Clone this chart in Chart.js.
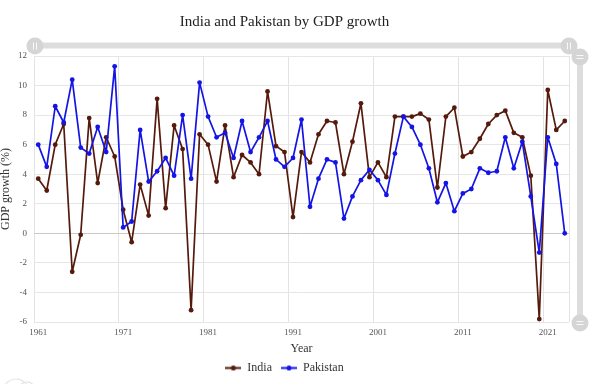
<!DOCTYPE html>
<html>
<head>
<meta charset="utf-8">
<script src="https://cdn.jsdelivr.net/npm/chart.js@4.4.1/dist/chart.umd.min.js"></script>
<style>
  html, body { margin: 0; padding: 0; background: #ffffff; }
  #wrap { width: 602px; height: 384px; }
</style>
</head>
<body>
<div id="wrap"><canvas id="c" width="602" height="384"></canvas></div>
<script>
const years = ['1961','1962','1963','1964','1965','1966','1967','1968','1969','1970',
  '1971','1972','1973','1974','1975','1976','1977','1978','1979','1980',
  '1981','1982','1983','1984','1985','1986','1987','1988','1989','1990',
  '1991','1992','1993','1994','1995','1996','1997','1998','1999','2000',
  '2001','2002','2003','2004','2005','2006','2007','2008','2009','2010',
  '2011','2012','2013','2014','2015','2016','2017','2018','2019','2020',
  '2021','2022','2023'];
const tickYears = ['1961','1971','1981','1991','2001','2011','2021'];
const india = [3.7,2.9,6.0,7.4,-2.6,-0.1,7.8,3.4,6.5,5.2,
  1.6,-0.6,3.3,1.2,9.1,1.7,7.3,5.7,-5.2,6.7,
  6.0,3.5,7.3,3.8,5.3,4.8,4.0,9.6,5.9,5.5,
  1.1,5.5,4.8,6.7,7.6,7.5,4.0,6.2,8.8,3.8,
  4.8,3.8,7.9,7.9,7.9,8.1,7.7,3.1,7.9,8.5,
  5.2,5.5,6.4,7.4,8.0,8.3,6.8,6.5,3.9,-5.8,
  9.7,7.0,7.6];
const pakistan = [6.0,4.5,8.6,7.5,10.4,5.8,5.4,7.2,5.5,11.3,
  0.4,0.8,7.0,3.5,4.2,5.1,3.9,8.0,3.7,10.2,
  7.9,6.5,6.8,5.1,7.6,5.5,6.5,7.6,5.0,4.5,
  5.1,7.7,1.8,3.7,5.0,4.8,1.0,2.5,3.6,4.3,
  3.6,2.6,5.4,7.9,7.2,6.0,4.4,2.1,3.4,1.5,
  2.7,3.0,4.4,4.1,4.2,6.5,4.4,6.2,2.5,-1.3,
  6.5,4.7,0.0];
const seriesNames = ['India', 'Pakistan'];
const yTicks = [-6, -4, -2, 0, 2, 4, 6, 8, 10, 12];

const INDIA_COLOR = '#561a0c';
const PAK_COLOR = '#1414e6';
const SERIF = "'Liberation Serif', 'Times New Roman', serif";

function legendIcon(color) {
  const cv = document.createElement('canvas');
  cv.width = 16; cv.height = 7;
  const g = cv.getContext('2d');
  g.strokeStyle = color; g.lineWidth = 2;
  g.beginPath(); g.moveTo(0, 3.5); g.lineTo(16, 3.5); g.stroke();
  g.fillStyle = color;
  g.beginPath(); g.arc(8, 3.5, 2.5, 0, Math.PI * 2); g.fill();
  return cv;
}
const icons = [legendIcon(INDIA_COLOR), legendIcon(PAK_COLOR)];

const sliderPlugin = {
  id: 'sliders',
  afterDraw(chart) {
    const ctx = chart.ctx;
    const a = chart.chartArea;
    ctx.save();
    const ty = 45.5;
    ctx.strokeStyle = '#dddddd';
    ctx.lineWidth = 6;
    ctx.lineCap = 'round';
    ctx.beginPath(); ctx.moveTo(a.left + 1, ty); ctx.lineTo(a.right, ty); ctx.stroke();
    const rx = 580;
    ctx.beginPath(); ctx.moveTo(rx, a.top + 1); ctx.lineTo(rx, a.bottom + 1); ctx.stroke();
    function handle(x, y, vertical) {
      ctx.fillStyle = '#d5d5d5';
      ctx.beginPath(); ctx.arc(x, y, 8.5, 0, Math.PI * 2); ctx.fill();
      ctx.strokeStyle = 'rgba(255,255,255,0.85)';
      ctx.lineWidth = 1;
      ctx.lineCap = 'butt';
      ctx.beginPath();
      if (vertical) {
        ctx.moveTo(x - 1.5, y - 3.5); ctx.lineTo(x - 1.5, y + 3.5);
        ctx.moveTo(x + 1.5, y - 3.5); ctx.lineTo(x + 1.5, y + 3.5);
      } else {
        ctx.moveTo(x - 3.5, y - 1.5); ctx.lineTo(x + 3.5, y - 1.5);
        ctx.moveTo(x - 3.5, y + 1.5); ctx.lineTo(x + 3.5, y + 1.5);
      }
      ctx.stroke();
    }
    handle(a.left + 1, 46, true);
    handle(a.right, 46, true);
    handle(rx, a.top + 1, false);
    handle(rx, a.bottom + 1, false);
    ctx.strokeStyle = '#e4e4e4';
    ctx.lineWidth = 1.2;
    ctx.beginPath(); ctx.arc(16, 392, 13, Math.PI * 1.05, Math.PI * 1.95); ctx.stroke();
    ctx.beginPath(); ctx.arc(27, 390, 8, Math.PI * 1.1, Math.PI * 1.9); ctx.stroke();
    ctx.restore();
  }
};

new Chart(document.getElementById('c'), {
  type: 'line',
  data: {
    labels: years,
    datasets: [
      { label: seriesNames[0], data: india, borderColor: INDIA_COLOR, backgroundColor: INDIA_COLOR,
        borderWidth: 1.7, borderJoinStyle: 'round', pointRadius: 2.4, pointBorderWidth: 0,
        pointBackgroundColor: INDIA_COLOR, tension: 0, order: 1 },
      { label: seriesNames[1], data: pakistan, borderColor: PAK_COLOR, backgroundColor: PAK_COLOR,
        borderWidth: 1.7, borderJoinStyle: 'round', pointRadius: 2.4, pointBorderWidth: 0,
        pointBackgroundColor: PAK_COLOR, tension: 0, order: 0 }
    ]
  },
  options: {
    responsive: false,
    animation: false,
    devicePixelRatio: 1,
    layout: { padding: { left: 0, right: 33, top: 0, bottom: 0 } },
    plugins: {
      title: {
        display: true,
        text: 'India and Pakistan by GDP growth',
        color: '#222',
        font: { family: SERIF, size: 15, weight: 'normal', lineHeight: 1.2 },
        padding: { top: 13, bottom: 25 }
      },
      legend: {
        display: true,
        position: 'bottom',
        labels: {
          color: '#333',
          font: { family: SERIF, size: 12 },
          usePointStyle: true,
          pointStyleWidth: 16,
          padding: 9,
          generateLabels(chart) {
            return chart.data.datasets.map((ds, i) => ({
              text: ds.label,
              fillStyle: ds.borderColor,
              strokeStyle: ds.borderColor,
              fontColor: '#333',
              pointStyle: icons[i],
              lineWidth: 0,
              hidden: false,
              datasetIndex: i
            }));
          }
        }
      },
      tooltip: { enabled: false }
    },
    scales: {
      x: {
        type: 'category',
        offset: true,
        afterFit(scale) { scale.height = 31; },
        grid: {
          offset: true,
          drawTicks: false,
          color: (c) => (c.index === undefined || c.index % 10 === 0) ? '#e3e3e3' : 'rgba(0,0,0,0)',
          lineWidth: 1
        },
        border: { display: false },
        ticks: {
          autoSkip: false,
          maxRotation: 0,
          padding: 5.5,
          color: '#555',
          font: { family: SERIF, size: 9 },
          callback(v, i) { const l = years[i]; return tickYears.includes(l) ? l : ''; }
        },
        title: {
          display: true,
          text: 'Year',
          color: '#333',
          font: { family: SERIF, size: 12, lineHeight: 1 },
          padding: { top: 0, bottom: -2 }
        }
      },
      y: {
        min: yTicks[0],
        max: yTicks[yTicks.length - 1],
        afterFit(scale) { scale.width = 34; },
        afterBuildTicks(scale) { scale.ticks = yTicks.map(v => ({ value: v })); },
        grid: {
          drawTicks: false,
          color: (c) => (c.tick && c.tick.value === 0) ? '#c9c9c9' : '#e6e6e6',
          lineWidth: 1
        },
        border: { display: false },
        ticks: {
          padding: 7,
          color: '#555',
          font: { family: SERIF, size: 9 }
        },
        title: {
          display: true,
          text: 'GDP growth (%)',
          color: '#333',
          font: { family: SERIF, size: 12, lineHeight: 1 },
          padding: { top: 0, bottom: 0 }
        }
      }
    }
  },
  plugins: [sliderPlugin]
});
</script>
</body>
</html>
